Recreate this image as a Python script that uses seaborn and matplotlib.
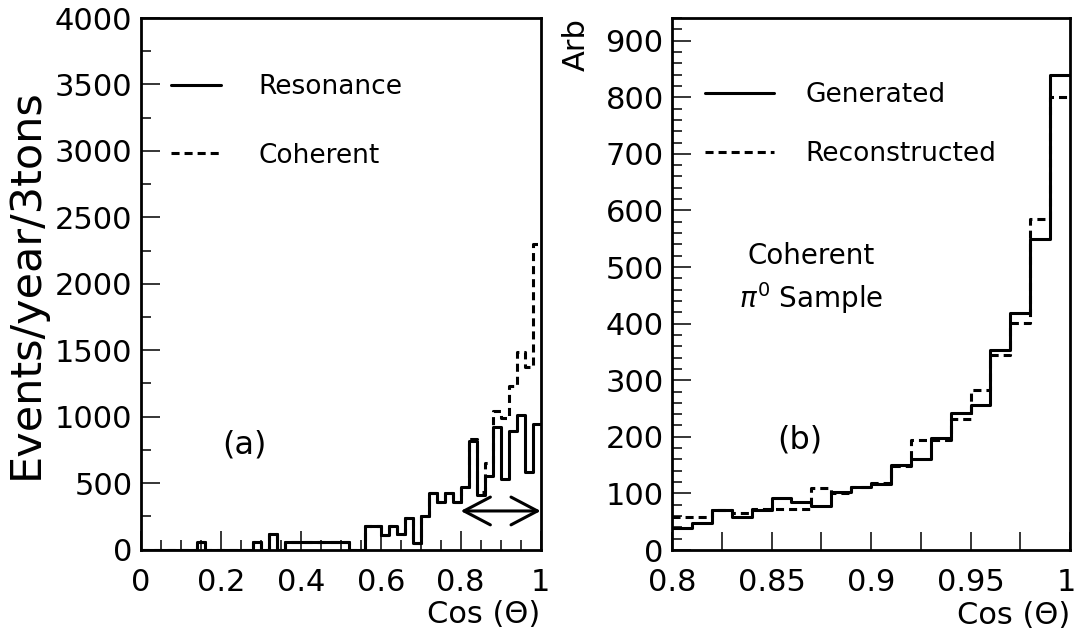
import numpy as np
import pandas as pd
import seaborn as sns
import matplotlib
matplotlib.use('Agg')
import matplotlib.pyplot as plt
from matplotlib.transforms import ScaledTranslation

# (a) cos(theta) in 0.02 bins, events/year/3tons
edges_a = [round(0.02 * i, 2) for i in range(51)]
resonance = [0, 0, 0, 0, 0, 0, 0, 55, 0, 0,
             0, 0, 0, 0, 55, 0, 113, 0, 55, 55,
             55, 55, 55, 55, 55, 55, 0, 0, 175, 175,
             110, 180, 120, 235, 50, 255, 425, 355, 425, 355,
             470, 820, 410, 550, 920, 530, 890, 1010, 585, 948]
coherent = [0, 0, 0, 0, 0, 0, 0, 55, 0, 0,
            0, 0, 0, 0, 55, 0, 113, 0, 55, 55,
            55, 55, 55, 55, 55, 55, 0, 0, 175, 175,
            110, 180, 120, 235, 50, 255, 425, 355, 425, 355,
            470, 830, 430, 650, 1040, 990, 1230, 1490, 1375, 2300]

# (b) coherent pi0 sample, 0.01 bins from 0.8 to 1
edges_b = [round(0.8 + 0.01 * i, 2) for i in range(21)]
generated = [38, 47, 70, 59, 70, 91, 85, 78, 103, 112,
             116, 150, 160, 198, 242, 256, 353, 418, 550, 840]
reconstructed = [59, 59, 70, 65, 73, 73, 72, 110, 100, 112,
                 118, 148, 194, 194, 232, 282, 344, 401, 585, 800]

xticks_a = [0, 0.2, 0.4, 0.6, 0.8, 1.0]
xlabels_a = ['0', '0.2', '0.4', '0.6', '0.8', '1']
xticks_b = [0.8, 0.825, 0.85, 0.875, 0.9, 0.925, 0.95, 0.975, 1.0]
xlabels_b = ['0.8', '', '0.85', '', '0.9', '', '0.95', '', '1']
arrow_x = [0.8, 1.0]
arrow_y = 290

df_a = pd.DataFrame({'cos': [e + 0.01 for e in edges_a[:-1]],
                     'Resonance': resonance, 'Coherent': coherent})
df_b = pd.DataFrame({'cos': [e + 0.005 for e in edges_b[:-1]],
                     'Generated': generated, 'Reconstructed': reconstructed})

sns.set_theme(style='ticks', rc={'axes.edgecolor': 'black', 'text.color': 'black',
                                 'xtick.color': 'black', 'ytick.color': 'black',
                                 'axes.labelcolor': 'black', 'axes.linewidth': 2.0})
plt.rcParams['font.family'] = ['DejaVu Sans']
plt.rcParams['lines.scale_dashes'] = False

W, H = 1075, 637
fig = plt.figure(figsize=(W / 100, H / 100), dpi=100)
ax1 = fig.add_axes([140.7 / W, (H - 549.5) / H, 400 / W, 531.5 / H])
ax2 = fig.add_axes([672 / W, (H - 550) / H, 398 / W, 532 / H])

dash = (0, (5.8, 3.6))
lw = 2.2

# dashed first so the solid one sits on top where they agree
sns.histplot(data=df_a, x='cos', weights='Coherent', bins=edges_a, element='step',
             fill=False, color='black', linewidth=lw, linestyle=dash, ax=ax1)
sns.histplot(data=df_a, x='cos', weights='Resonance', bins=edges_a, element='step',
             fill=False, color='black', linewidth=lw, ax=ax1)
sns.histplot(data=df_b, x='cos', weights='Reconstructed', bins=edges_b, element='step',
             fill=False, color='black', linewidth=lw, linestyle=dash, ax=ax2)
sns.histplot(data=df_b, x='cos', weights='Generated', bins=edges_b, element='step',
             fill=False, color='black', linewidth=lw, ax=ax2)

tick_fs = 22
for ax in (ax1, ax2):
    ax.tick_params(which='both', direction='in', top=False, right=False,
                   labelsize=tick_fs, width=1.1)
    ax.tick_params(axis='x', which='both', pad=13)
    ax.tick_params(axis='y', which='both', pad=6)
    for s in ax.spines.values():
        s.set_visible(True)
        s.set_linewidth(2.0)

# panel (a)
ax1.set_xlim(0, 1)
ax1.set_ylim(0, 4000)
ax1.set_xticks(xticks_a, xlabels_a)
ax1.set_xticks(np.arange(0, 1.0001, 0.05), minor=True)
ax1.set_yticks(np.arange(0, 4001, 500))
ax1.set_yticks(np.arange(0, 4001, 250), minor=True)
ax1.tick_params(which='major', length=14)
ax1.tick_params(which='minor', length=7)
ax1.set_xlabel('Cos (Θ)', fontsize=22)
ax1.xaxis.set_label_coords(1.0, -0.095)
ax1.xaxis.label.set_ha('right')
ax1.set_ylabel('Events/year/3tons', fontsize=31)
ax1.yaxis.set_label_coords(-0.235, 0.5)

ax1.annotate('', xy=(arrow_x[1], arrow_y), xytext=(arrow_x[0], arrow_y),
             arrowprops=dict(arrowstyle='<->,head_length=0.95,head_width=0.5',
                             lw=lw, color='black', mutation_scale=20,
                             shrinkA=0, shrinkB=0))
ax1.text(0.26, 790, '(a)', ha='center', va='center', fontsize=23)
ax1.legend(handles=[ax1.lines[1], ax1.lines[0]], labels=['Resonance', 'Coherent'],
           loc='upper left', bbox_to_anchor=(0.076, 0.895), frameon=False,
           fontsize=19, handlelength=1.9, handletextpad=1.4, labelspacing=1.62,
           borderpad=0, borderaxespad=0)

# panel (b)
ax2.set_xlim(0.8, 1.0)
ax2.set_ylim(0, 940)
ax2.set_xticks(xticks_b, xlabels_b)
ax2.set_yticks(np.arange(0, 901, 100))
ax2.set_yticks(np.arange(0, 941, 20), minor=True)
ax2.tick_params(axis='x', which='major', length=13)
ax2.tick_params(axis='y', which='major', length=14)
ax2.tick_params(axis='y', which='minor', length=7)
ax2.set_xlabel('Cos (Θ)', fontsize=22)
ax2.xaxis.set_label_coords(1.0, -0.095)
ax2.xaxis.label.set_ha('right')
ax2.set_ylabel('Arb', fontsize=22, loc='top')
ax2.yaxis.set_label_coords(-0.205, 1.0)

# keep the last "1" inside the canvas, as in the original
last = ax2.get_xticklabels()[-1]
last.set_ha('right')
last.set_transform(last.get_transform() + ScaledTranslation(6 / 100, 0, fig.dpi_scale_trans))

ax2.text(0.864, 194, '(b)', ha='center', va='center', fontsize=23)
ax2.text(0.87, 520, 'Coherent', ha='center', va='center', fontsize=20)
ax2.text(0.87, 446, r'$\pi^{0}$ Sample', ha='center', va='center', fontsize=20)
ax2.legend(handles=[ax2.lines[1], ax2.lines[0]], labels=['Generated', 'Reconstructed'],
           loc='upper left', bbox_to_anchor=(0.083, 0.88), frameon=False,
           fontsize=19, handlelength=2.6, handletextpad=1.2, labelspacing=1.25,
           borderpad=0, borderaxespad=0)

fig.savefig('out.png', dpi=100)
